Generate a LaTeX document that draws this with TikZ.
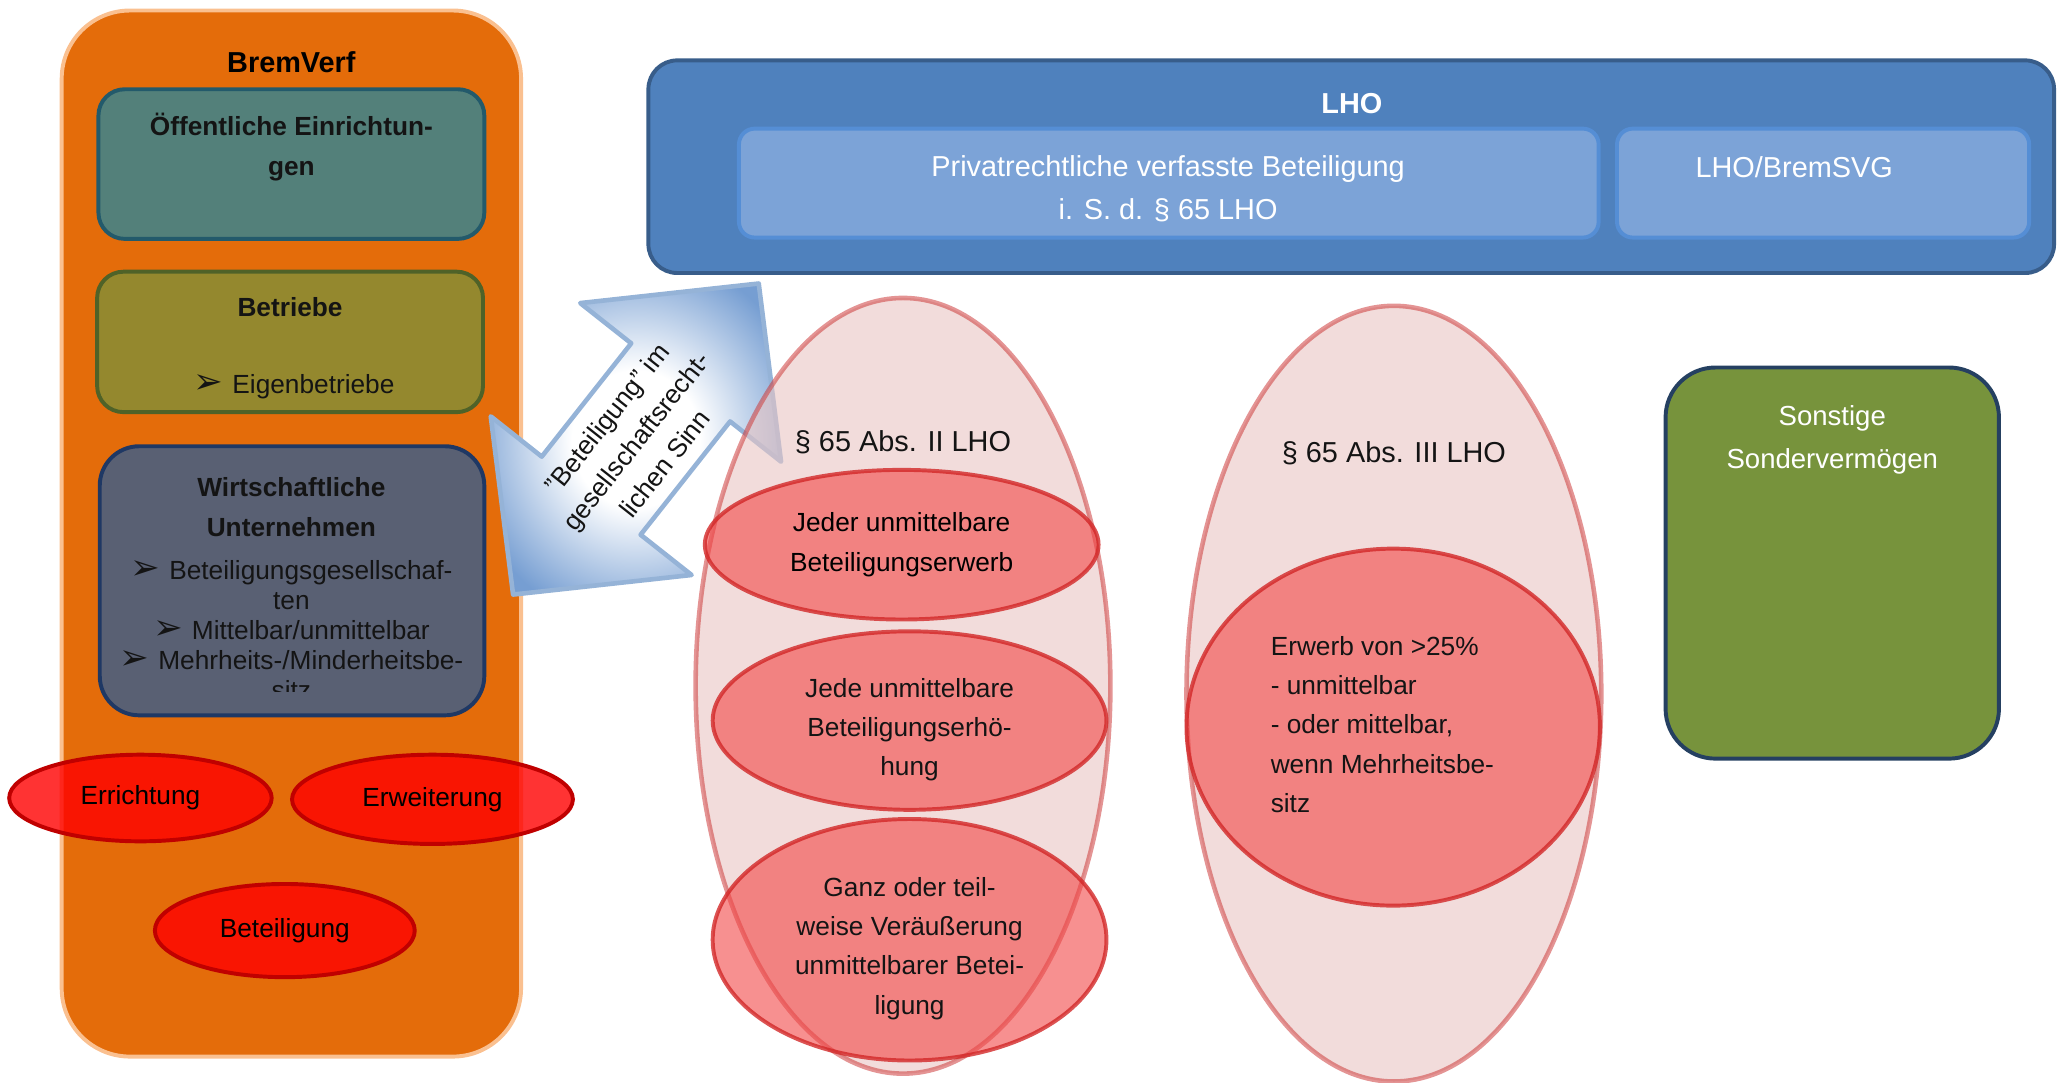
\documentclass[tikz,border=0pt]{standalone}
\usepackage{fontspec}
\setmainfont{Liberation Sans}
\newfontfamily\symfont{DejaVu Sans}
\usepackage{xcolor}
\usepackage{graphicx}
\usetikzlibrary{shapes.geometric}

\definecolor{bremorange}{RGB}{228,108,10}
\definecolor{bremedge}{RGB}{250,192,144}
\definecolor{oeffill}{RGB}{83,128,122}
\definecolor{oefedge}{RGB}{35,90,107}
\definecolor{betrfill}{RGB}{148,136,46}
\definecolor{betredge}{RGB}{79,98,40}
\definecolor{wirtfill}{RGB}{89,96,115}
\definecolor{wirtedge}{RGB}{31,56,100}
\definecolor{lhofill}{RGB}{79,129,189}
\definecolor{lhoedge}{RGB}{56,93,138}
\definecolor{lhoinner}{RGB}{124,163,215}
\definecolor{lhoinedge}{RGB}{85,142,213}
\definecolor{sonstfill}{RGB}{119,147,60}
\definecolor{sonstedge}{RGB}{37,64,97}
\definecolor{arrowedge}{RGB}{149,179,215}
\definecolor{arrowfill}{RGB}{118,158,210}
\definecolor{ovalred}{RGB}{255,0,0}
\definecolor{ovaledge}{RGB}{192,0,0}
\definecolor{paraglow}{RGB}{233,197,195}
\definecolor{paraedge}{RGB}{205,60,60}
\definecolor{casefill}{RGB}{242,70,70}
\definecolor{caseedge}{RGB}{210,40,40}
\definecolor{textdark}{RGB}{20,20,20}

\pgfdeclareradialshading{arrowglow}{\pgfpoint{0bp}{0bp}}{color(0bp)=(white); color(11bp)=(white); color(30bp)=(arrowfill); color(50bp)=(arrowfill)}

\newcommand{\arrbul}{\scalebox{1.35}{\symfont ➢}\hspace{7pt}}

\tikzset{
    orgbox/.style={draw, line width=3pt, inner sep=0pt},
    normtxt/.style={font={\fontsize{20}{30}\selectfont}, align=center, inner sep=0pt, text=textdark},
    boldtxt/.style={font={\fontsize{20}{30}\selectfont\bfseries}, align=center, inner sep=0pt, text=textdark},
    bigtxt/.style={font={\fontsize{22}{33}\selectfont}, align=center, inner sep=0pt},
    bigbold/.style={font={\fontsize{22}{33}\selectfont\bfseries}, align=center, inner sep=0pt},
    redoval/.style={ellipse, draw=ovaledge, fill=ovalred, fill opacity=0.8, text opacity=1,
        line width=3pt, inner sep=0pt, font={\fontsize{20}{30}\selectfont}},
    paraoval/.style={ellipse, fill=paraglow, fill opacity=0.6, draw=paraedge, draw opacity=0.55,
        line width=3.5pt, inner sep=0pt, minimum width=316, minimum height=591},
    caseoval/.style={ellipse, fill=casefill, fill opacity=0.6, draw=caseedge, draw opacity=0.8,
        text opacity=1, line width=3pt, inner sep=0pt, align=center, font={\fontsize{20}{30}\selectfont}}
}

\begin{document}
\begin{tikzpicture}[x=1pt, y=-1pt]
    \useasboundingbox (0,0) rectangle (1568,825);

    \node[orgbox, draw=bremedge, fill=bremorange, minimum width=350, minimum height=797, rounded corners=52pt] (bremverf) at (222,406.5) {};
    \node[bigbold] (bremtitle) at (222,47) {BremVerf};

    \node[orgbox, draw=oefedge, fill=oeffill, minimum width=294, minimum height=114, rounded corners=20pt] (oeffentl) at (222,125) {};
    \node[boldtxt] (oeftitle) at (222,112) {Öffentliche Einrichtun-\\gen};

    \node[orgbox, draw=betredge, fill=betrfill, minimum width=294, minimum height=107, rounded corners=20pt] (betriebe) at (221,260.5) {};
    \node[boldtxt] (betrtitle) at (221,234) {Betriebe};
    \node[normtxt] (eigenbetr) at (224,295) {\arrbul Eigenbetriebe};

    \node[orgbox, draw=wirtedge, fill=wirtfill, minimum width=293, minimum height=205, rounded corners=30pt] (wirtschaft) at (222.5,442.5) {};
    \node[boldtxt] (wirttitle) at (222,386.5) {Wirtschaftliche\\Unternehmen};
    \begin{scope}
        \clip (76,340) rectangle (369,527);
        \node[normtxt, font={\fontsize{20}{23}\selectfont}] (wirtlist) at (222,480) {\arrbul Beteiligungsgesellschaf-\\ten\\\arrbul Mittelbar/unmittelbar\\\arrbul Mehrheits-/Minderheitsbe-\\sitz};
    \end{scope}

    \node[redoval, minimum width=200, minimum height=66] (errichtung) at (107,608) {Errichtung};
    \node[redoval, minimum width=214, minimum height=68] (erweiterung) at (329.5,609) {Erweiterung};
    \node[redoval, minimum width=198, minimum height=71] (beteiligung) at (217,709) {Beteiligung};

    \node[orgbox, draw=lhoedge, fill=lhofill, minimum width=1071, minimum height=162, rounded corners=22pt] (lho) at (1029.5,127) {};
    \node[bigbold, text=white] (lhotitle) at (1030,79) {LHO};
    \node[orgbox, draw=lhoinedge, fill=lhoinner, minimum width=655, minimum height=83, rounded corners=12pt] (privat) at (890.5,139.5) {};
    \node[bigtxt, text=white] (privattxt) at (890,144) {Privatrechtliche verfasste Beteiligung\\i. S. d. § 65 LHO};
    \node[orgbox, draw=lhoinedge, fill=lhoinner, minimum width=314, minimum height=83, rounded corners=12pt] (bremsvg) at (1389,139.5) {};
    \node[bigtxt, text=white] (bremsvgtxt) at (1367,127.5) {LHO/BremSVG};

    \begin{scope}[shift={(484.5,334.5)}, rotate=51.7]
        \shadedraw[shading=arrowglow, draw=arrowedge, line width=3.5pt, line join=round]
            (151pt,0pt) -- (55pt,97.5pt) -- (55pt,48pt) -- (-55pt,48pt) -- (-55pt,97.5pt)
            -- (-151pt,0pt) -- (-55pt,-97.5pt) -- (-55pt,-48pt) -- (55pt,-48pt) -- (55pt,-97.5pt) -- cycle;
    \end{scope}
    \node[normtxt, rotate=51.7, font={\fontsize{20}{28}\selectfont}] (arrowtxt) at (484.5,336) {"Beteiligung" im\\gesellschaftsrecht-\\lichen Sinn};

    \node[paraoval] (abs2) at (688,522.5) {};
    \node[bigtxt, text=textdark] (abs2lbl) at (688,337) {§ 65 Abs. II LHO};
    \node[caseoval, minimum width=300, minimum height=114] (erwerb) at (687,415) {Jeder unmittelbare\\Beteiligungserwerb};
    \node[caseoval, minimum width=300, minimum height=136] (erhoehung) at (693,549) {};
    \node[normtxt] (erhoehtxt) at (693,556) {Jede unmittelbare\\Beteiligungserhö-\\hung};
    \node[caseoval, minimum width=300, minimum height=184] (veraeuss) at (693,716) {};
    \node[normtxt] (veraeusstxt) at (693,722.5) {Ganz oder teil-\\weise Veräußerung\\unmittelbarer Betei-\\ligung};

    \node[paraoval] (abs3) at (1062,528.5) {};
    \node[bigtxt, text=textdark] (abs3lbl) at (1062,345) {§ 65 Abs. III LHO};
    \node[caseoval, minimum width=315, minimum height=272] (mehrheit) at (1061.5,554) {};
    \node[normtxt, align=left, anchor=west] (mehrheittxt) at (968,552) {Erwerb von >25\%\\- unmittelbar\\- oder mittelbar,\\wenn Mehrheitsbe-\\sitz};

    \node[orgbox, draw=sonstedge, fill=sonstfill, minimum width=254, minimum height=298, rounded corners=38pt] (sonstige) at (1396,429) {};
    \node[bigtxt, text=white, font={\fontsize{21}{33}\selectfont}] (sonsttxt) at (1396,335) {Sonstige\\Sondervermögen};
\end{tikzpicture}
\end{document}
